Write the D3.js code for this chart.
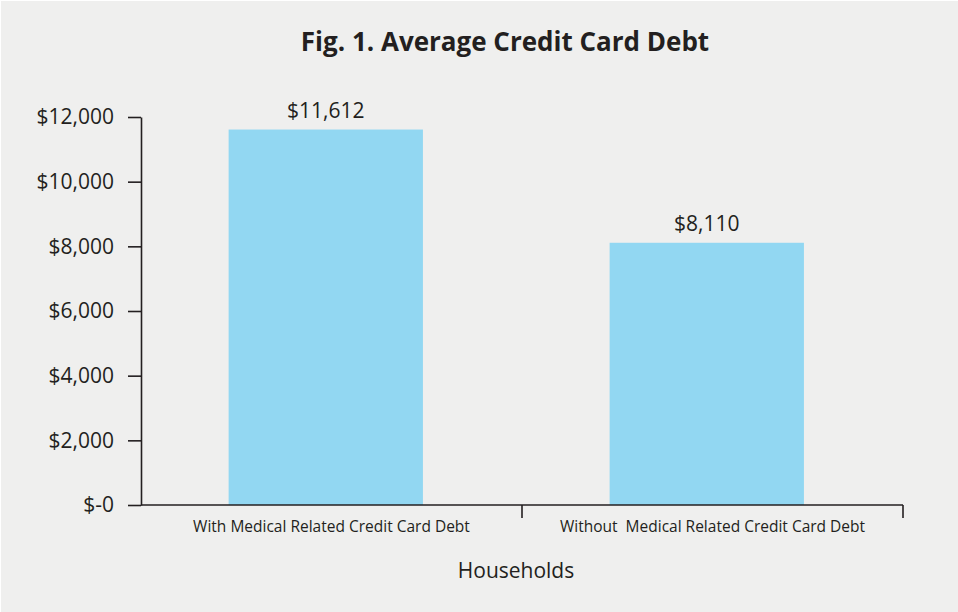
<!DOCTYPE html>
<html>
<head>
<meta charset="utf-8">
<script src="https://cdn.jsdelivr.net/npm/d3@7"></script>
<style>
  html, body { margin: 0; padding: 0; background: #ffffff; }
  svg { display: block; }
</style>
</head>
<body>
<div id="chart"></div>
<script>
// DATA
const categories = ["With Medical Related Credit Card Debt", "Without  Medical Related Credit Card Debt"]
const debtValues = [11612, 8110]
const debtLabels = ["$11,612", "$8,110"]
const yTickValues = [0, 2000, 4000, 6000, 8000, 10000, 12000]
const yTickLabels = ["$-0", "$2,000", "$4,000", "$6,000", "$8,000", "$10,000", "$12,000"]

const dataset = categories.map((c, i) => ({ category: c, value: debtValues[i], label: debtLabels[i] }))

const xAccessor = d => d.category
const yAccessor = d => d.value

// DIMENSIONS
const dimensions = {
    width: 958,
    height: 612,
    margin: { top: 117, right: 55, bottom: 107, left: 141 }
}
dimensions.boundedWidth = dimensions.width - dimensions.margin.left - dimensions.margin.right
dimensions.boundedHeight = dimensions.height - dimensions.margin.top - dimensions.margin.bottom

const ink = "#231f20"
const sans = "'Open Sans', 'Noto Sans', sans-serif"

// CANVAS
const wrapper = d3.select("#chart")
    .append("svg")
    .attr("width", dimensions.width)
    .attr("height", dimensions.height)

wrapper.append("rect")
    .attr("x", 1).attr("y", 1)
    .attr("width", dimensions.width - 1)
    .attr("height", dimensions.height - 1)
    .attr("fill", "#efefee")

const bounds = wrapper.append("g")
    .attr("transform", `translate(${dimensions.margin.left},${dimensions.margin.top})`)

// SCALES
const xScale = d3.scaleBand()
    .domain(categories)
    .range([0, dimensions.boundedWidth])
    .padding(0)

const yScale = d3.scaleLinear()
    .domain([0, 12000])
    .range([dimensions.boundedHeight, 0])

// BARS
const barOffset = xScale.bandwidth() * 0.23
const barWidth = xScale.bandwidth() * 0.51

bounds.selectAll("rect.bar")
    .data(dataset)
  .enter().append("rect")
    .attr("class", "bar")
    .attr("x", d => xScale(xAccessor(d)) + barOffset)
    .attr("y", d => yScale(yAccessor(d)))
    .attr("width", barWidth)
    .attr("height", d => dimensions.boundedHeight - yScale(yAccessor(d)))
    .attr("fill", "#92d7f2")

bounds.selectAll("text.value")
    .data(dataset)
  .enter().append("text")
    .attr("class", "value")
    .attr("x", d => xScale(xAccessor(d)) + barOffset + barWidth / 2)
    .attr("y", d => yScale(yAccessor(d)) - 12)
    .attr("text-anchor", "middle")
    .attr("fill", ink)
    .style("font-family", sans)
    .style("font-size", "21px")
    .text(d => d.label)

// PERIPHERALS
const yAxisGenerator = d3.axisLeft(yScale)
    .tickValues(yTickValues)
    .tickFormat((d, i) => yTickLabels[i])
    .tickSize(13)
    .tickSizeOuter(0)
    .tickPadding(14)

const yAxis = bounds.append("g").call(yAxisGenerator)
yAxis.select(".domain").attr("stroke", ink).attr("stroke-width", 1.6)
yAxis.selectAll(".tick line").attr("stroke", ink).attr("stroke-width", 1.6)
yAxis.selectAll(".tick text")
    .attr("fill", ink)
    .style("font-family", sans)
    .style("font-size", "21px")

// x axis: line with ticks at category boundaries
const xAxis = bounds.append("g")
    .attr("transform", `translate(0,${dimensions.boundedHeight})`)

xAxis.append("line")
    .attr("x1", 0).attr("x2", dimensions.boundedWidth)
    .attr("stroke", ink).attr("stroke-width", 1.6)

xAxis.selectAll("line.boundary")
    .data(categories)
  .enter().append("line")
    .attr("class", "boundary")
    .attr("x1", d => xScale(d) + xScale.bandwidth())
    .attr("x2", d => xScale(d) + xScale.bandwidth())
    .attr("y1", 0).attr("y2", 13)
    .attr("stroke", ink).attr("stroke-width", 1.6)

xAxis.selectAll("text.category")
    .data(categories)
  .enter().append("text")
    .attr("class", "category")
    .attr("x", d => xScale(d) + xScale.bandwidth() / 2)
    .attr("y", 27)
    .attr("text-anchor", "middle")
    .attr("fill", ink)
    .style("font-family", sans)
    .style("font-size", "15.5px")
    .style("white-space", "pre")
    .text(d => d)

xAxis.append("text")
    .attr("x", dimensions.boundedWidth / 2 - 6)
    .attr("y", 73)
    .attr("text-anchor", "middle")
    .attr("fill", ink)
    .style("font-family", sans)
    .style("font-size", "21px")
    .text("Households")

// title
wrapper.append("text")
    .attr("x", 505)
    .attr("y", 51)
    .attr("text-anchor", "middle")
    .attr("fill", ink)
    .style("font-family", sans)
    .style("font-weight", "bold")
    .style("font-size", "26px")
    .text("Fig. 1. Average Credit Card Debt")
</script>
</body>
</html>
